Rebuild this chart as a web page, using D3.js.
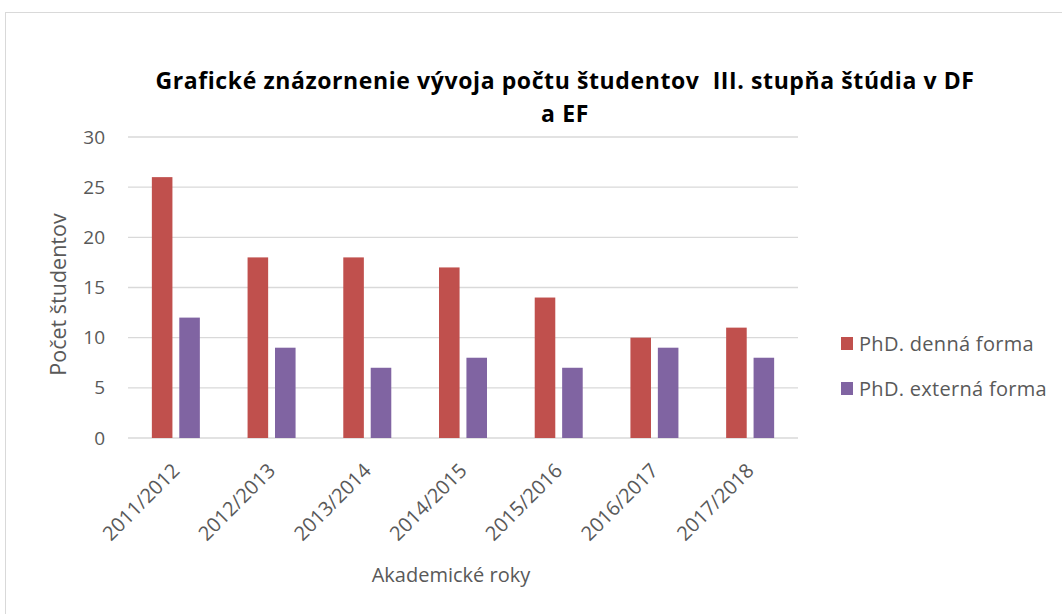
<!DOCTYPE html>
<html>
<head>
<meta charset="utf-8">
<script src="https://cdn.jsdelivr.net/npm/d3@7"></script>
<style>
  body { margin: 0; background: #fff; }
  svg { display: block; }
  text { font-family: "Open Sans", Lato, sans-serif; white-space: pre; }
</style>
</head>
<body>
<svg id="chart" width="1062" height="614"></svg>
<script>
const years = ['2011/2012', '2012/2013', '2013/2014', '2014/2015', '2015/2016', '2016/2017', '2017/2018'];
const dennaForma = [26, 18, 18, 17, 14, 10, 11];
const externaForma = [12, 9, 7, 8, 7, 9, 8];
const seriesNames = ['PhD. denná forma', 'PhD. externá forma'];
const yTicks = [0, 5, 10, 15, 20, 25, 30];

const seriesColors = ['#c0504d', '#8064a2'];
const textColor = '#595959';

const rows = years.map((y, i) => ({ year: y, values: [dennaForma[i], externaForma[i]] }));

const svg = d3.select('#chart');
const margin = { left: 128, right: 264, top: 137, bottom: 176 };
const g_w = 1062 - margin.left - margin.right;
const g_h = 614 - margin.top - margin.bottom;

// chart frame (right and bottom edges fall outside the picture)
svg.append('rect')
    .attr('x', 5.5)
    .attr('y', 12.5)
    .attr('width', 1070)
    .attr('height', 620)
    .attr('fill', 'none')
    .attr('stroke', '#d9d9d9');

const g = svg.append('g').attr('transform', `translate(${margin.left},${margin.top})`);

const x = d3.scaleBand().domain(years).range([0, g_w]).paddingInner(0).paddingOuter(0);
const xSeries = d3.scaleBand().domain([0, 1]).range([-24, 24]).paddingInner(0.25);
const y = d3.scaleLinear().domain([0, 30]).range([g_h, 0]);

// gridlines
g.append('g')
    .selectAll('line')
    .data(yTicks)
    .enter()
    .append('line')
    .attr('x1', 0)
    .attr('x2', g_w)
    .attr('y1', d => y(d))
    .attr('y2', d => y(d))
    .attr('stroke', '#d9d9d9')
    .attr('stroke-width', 1.3);

// y axis labels
const yAxis = g.append('g').call(d3.axisLeft(y).tickValues(yTicks).tickSize(0).tickPadding(23));
yAxis.select('.domain').remove();
yAxis.selectAll('text')
    .attr('fill', textColor)
    .attr('font-size', 19);

// bars
const groups = g.selectAll('.year')
    .data(rows)
    .enter()
    .append('g')
    .attr('class', 'year')
    .attr('transform', d => `translate(${x(d.year) + x.bandwidth() / 2},0)`);

groups.selectAll('rect')
    .data(d => d.values)
    .enter()
    .append('rect')
    .attr('x', (d, i) => xSeries(i))
    .attr('width', xSeries.bandwidth())
    .attr('y', d => y(d))
    .attr('height', d => g_h - y(d))
    .attr('fill', (d, i) => seriesColors[i]);

// x axis labels
const xAxis = g.append('g')
    .attr('transform', `translate(0,${g_h})`)
    .call(d3.axisBottom(x).tickSize(0).tickPadding(0));
xAxis.select('.domain').remove();
xAxis.selectAll('text')
    .attr('fill', textColor)
    .attr('font-size', 20)
    .attr('text-anchor', 'end')
    .attr('x', 0)
    .attr('y', 0)
    .attr('dy', 0)
    .attr('transform', 'translate(5,34) rotate(-45)');

// axis titles
svg.append('text')
    .attr('x', 451)
    .attr('y', 582)
    .attr('text-anchor', 'middle')
    .attr('fill', textColor)
    .attr('font-size', 20)
    .text('Akademické roky');

svg.append('text')
    .attr('transform', `translate(66,${margin.top + g_h / 2 + 7}) rotate(-90)`)
    .attr('text-anchor', 'middle')
    .attr('fill', textColor)
    .attr('font-size', 21.5)
    .text('Počet študentov');

// title
const title = svg.append('text')
    .attr('text-anchor', 'middle')
    .attr('font-size', 23)
    .attr('font-weight', 'bold')
    .attr('letter-spacing', 0.6)
    .attr('fill', '#000');
title.append('tspan').attr('x', 565).attr('y', 89).text('Grafické znázornenie vývoja počtu študentov  III. stupňa štúdia v DF');
title.append('tspan').attr('x', 565).attr('y', 122).text('a EF');

// legend
const legend = svg.append('g').attr('transform', 'translate(841,343.5)');
const item = legend.selectAll('g')
    .data(seriesNames)
    .enter()
    .append('g')
    .attr('transform', (d, i) => `translate(0,${i * 45})`);
item.append('rect')
    .attr('x', 0)
    .attr('y', -6.5)
    .attr('width', 12)
    .attr('height', 13)
    .attr('fill', (d, i) => seriesColors[i]);
item.append('text')
    .attr('x', 18)
    .attr('y', 0)
    .attr('dy', '0.36em')
    .attr('fill', textColor)
    .attr('font-size', 20)
    .attr('letter-spacing', 0.3)
    .text(d => d);
</script>
</body>
</html>
